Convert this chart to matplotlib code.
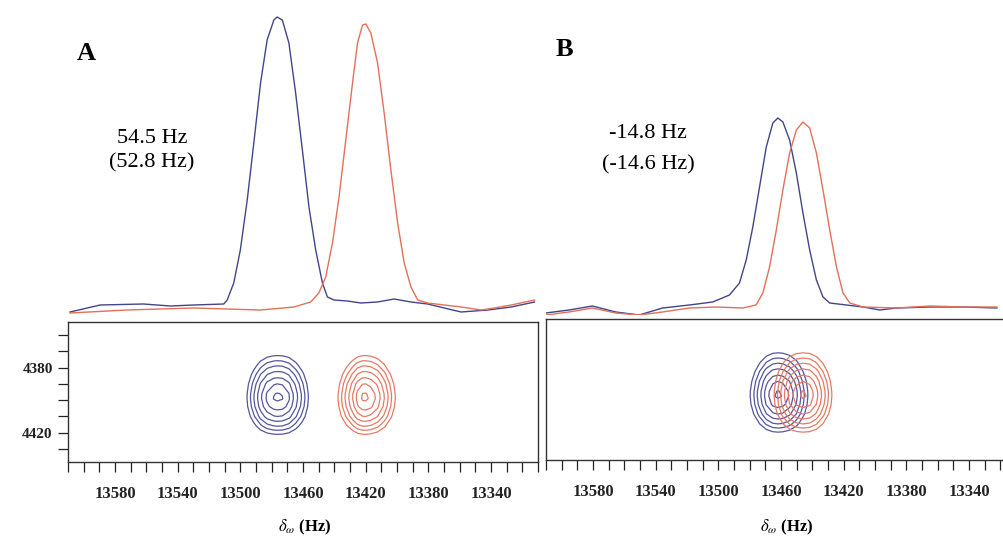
import numpy as np
import matplotlib.pyplot as plt
from matplotlib.ticker import MultipleLocator, FixedLocator

plt.rcParams['font.family'] = ['Liberation Serif', 'DejaVu Serif']
plt.rcParams['mathtext.fontset'] = 'stix'

# 1D traces (F2 projection), Hz vs intensity
a_blue_hz = [13608.7, 13589.5, 13561.8, 13544.7, 13529.8, 13510.6, 13508.4, 13504.2,
             13500.0, 13495.6, 13491.4, 13487.1, 13482.9, 13478.6, 13476.5, 13473.2,
             13469.0, 13464.7, 13460.4, 13456.2, 13451.9, 13447.6, 13444.4, 13440.2,
             13431.6, 13423.1, 13412.4, 13401.8, 13391.1, 13380.4, 13369.8, 13359.1,
             13342.0, 13327.1, 13312.2]
a_blue_int = [3, 10, 11, 9, 10, 11, 15, 32, 65, 115, 172, 232, 275, 295, 298, 295,
              272, 222, 165, 108, 65, 32, 18, 15, 14, 12, 13, 16, 13, 11, 7, 3,
              5, 8, 13]

a_red_hz = [13608.7, 13572.4, 13529.8, 13487.1, 13465.8, 13455.1, 13449.9, 13445.5,
            13441.2, 13437.0, 13432.7, 13428.4, 13425.2, 13422.0, 13419.9, 13416.7,
            13412.4, 13408.2, 13403.9, 13399.6, 13395.4, 13391.1, 13386.8, 13380.4,
            13369.8, 13359.1, 13346.3, 13337.8, 13327.1, 13312.2]
a_red_int = [2, 5, 7, 5, 8, 13, 22, 38, 72, 118, 175, 232, 272, 290, 291, 282,
             252, 202, 145, 92, 52, 28, 15, 12, 10, 8, 5, 7, 10, 15]

b_blue_hz = [13610.2, 13595.3, 13580.4, 13565.4, 13550.5, 13535.6, 13518.5, 13503.6,
             13492.9, 13486.5, 13482.2, 13478.0, 13473.7, 13469.4, 13465.2, 13462.0,
             13458.8, 13454.5, 13450.2, 13446.0, 13441.7, 13437.4, 13433.2, 13428.9,
             13418.2, 13407.6, 13396.9, 13386.2, 13364.9, 13343.6, 13322.2]
b_blue_int = [2, 5, 9, 3, 0, 7, 10, 13, 20, 32, 55, 88, 128, 168, 192, 197,
              193, 175, 142, 102, 65, 35, 18, 12, 10, 8, 5, 7, 8, 8, 7]

b_red_hz = [13610.2, 13595.3, 13580.4, 13565.4, 13550.5, 13535.6, 13518.5, 13501.4,
            13484.4, 13475.9, 13471.6, 13467.3, 13463.0, 13458.8, 13454.5, 13450.2,
            13446.0, 13441.7, 13437.4, 13433.2, 13428.9, 13424.6, 13420.4, 13416.1,
            13407.6, 13386.2, 13364.9, 13343.6, 13322.2]
b_red_int = [0, 3, 7, 2, 0, 3, 7, 8, 7, 10, 22, 48, 85, 125, 162, 185,
             193, 187, 162, 125, 85, 48, 22, 12, 8, 7, 9, 8, 8]

# F1 cross-section through the cross peaks
f1_ppm = [4340, 4352, 4360, 4366, 4372, 4378, 4384, 4390, 4396, 4399,
          4404, 4410, 4416, 4421, 4426, 4432, 4440, 4450]
f1_int = [0.0, 0.05, 0.12, 0.22, 0.36, 0.55, 0.74, 0.9, 0.99, 1.0,
          0.95, 0.8, 0.58, 0.38, 0.2, 0.08, 0.02, 0.0]

levels = [0.38, 0.48, 0.58, 0.69, 0.8, 0.9, 0.985]

x_major = [13580, 13540, 13500, 13460, 13420, 13380, 13340]
y_major = [4380, 4420]

blue = '#44448a'
red = '#e2705a'
blue_c = '#55559c'
red_c = '#e57a64'

W, H = 1004, 537
fig = plt.figure(figsize=(W / 100, H / 100), dpi=100)


def fx(px):
    return px / W


def fy(py):
    return 1 - py / H


def contour_peak(ax, hz, inten, color):
    x = np.array(hz)[::-1]
    z = np.array(inten, dtype=float)[::-1]
    z = z / z.max()
    y = np.array(f1_ppm)
    f = np.array(f1_int)
    Z = np.outer(f, z)
    ax.contour(x, y, Z, levels=levels, colors=color, linewidths=0.9)


def panel(left, top_box, bottom_box, hz1, i1, hz2, i2, show_y):
    width = 470
    ax = fig.add_axes([fx(left), fy(bottom_box), width / W, (bottom_box - top_box) / H])
    contour_peak(ax, hz1, i1, blue_c)
    contour_peak(ax, hz2, i2, red_c)
    ax.set_xlim(13610, 13310)
    ax.set_ylim(4438, 4352)
    ax.xaxis.set_major_locator(FixedLocator(x_major))
    ax.xaxis.set_minor_locator(MultipleLocator(10))
    ax.tick_params(axis='x', which='both', direction='out', length=7, width=0.9,
                   labelsize=12, pad=10, colors='#222222')
    for lab in ax.get_xticklabels():
        lab.set_fontweight('bold')
    if show_y:
        ax.yaxis.set_major_locator(FixedLocator(y_major))
        ax.yaxis.set_minor_locator(MultipleLocator(10))
        ax.tick_params(axis='y', which='both', direction='out', length=7, width=0.9,
                       labelsize=11, pad=4, colors='#222222')
        for lab in ax.get_yticklabels():
            lab.set_fontweight('bold')
    else:
        ax.set_yticks([])
    for s in ax.spines.values():
        s.set_linewidth(1.0)
        s.set_color('#333333')

    top = fig.add_axes([fx(left), fy(315), width / W, 315 / H])
    top.plot(hz1, i1, color=blue, lw=1.0)
    top.plot(hz2, i2, color=red, lw=1.0)
    top.set_xlim(13610, 13310)
    top.set_ylim(0, 315)
    top.axis('off')
    return ax


panel(68, 322, 462, a_blue_hz, a_blue_int, a_red_hz, a_red_int, True)
panel(546, 319, 460, b_blue_hz, b_blue_int, b_red_hz, b_red_int, False)

fig.text(fx(86), fy(53), 'A', fontsize=19, fontweight='bold', ha='center', va='center')
fig.text(fx(564), fy(50), 'B', fontsize=19, fontweight='bold', ha='center', va='center')
fig.text(fx(152), fy(138), '54.5 Hz', fontsize=16, ha='center', va='center')
fig.text(fx(152), fy(163), '(52.8 Hz)', fontsize=16, ha='center', va='center')
fig.text(fx(648), fy(133), '-14.8 Hz', fontsize=16, ha='center', va='center')
fig.text(fx(648), fy(165), '(-14.6 Hz)', fontsize=16, ha='center', va='center')
fig.text(fx(305), fy(527), r'$\delta_{\omega}$ (Hz)', fontsize=12, fontweight='bold',
         ha='center', va='center')
fig.text(fx(787), fy(527), r'$\delta_{\omega}$ (Hz)', fontsize=12, fontweight='bold',
         ha='center', va='center')

fig.savefig('out.png', dpi=100)
